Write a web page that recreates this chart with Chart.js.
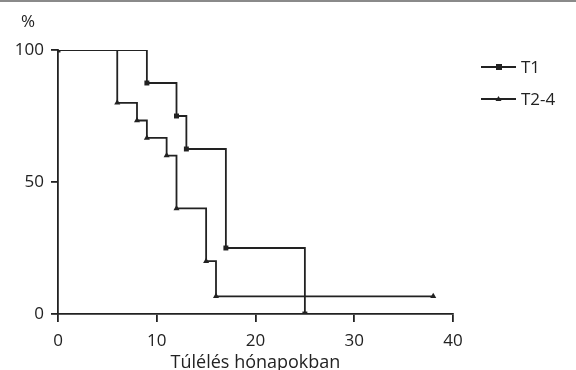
<!DOCTYPE html>
<html>
<head>
<meta charset="utf-8">
<script src="https://cdn.jsdelivr.net/npm/chart.js@4/dist/chart.umd.min.js"></script>
<style>
  html, body { margin: 0; padding: 0; background: #fff; }
  #wrap { position: relative; width: 576px; height: 370px; }
  #edge { position: absolute; left: 0; top: 0; width: 576px; height: 2px; background: #8a8a8a; }
</style>
</head>
<body>
<div id="wrap">
  <canvas id="kmChart" width="576" height="370"></canvas>
  <div id="edge"></div>
</div>
<script>
// Kaplan-Meier survival, % surviving vs months
const t1Months = [0, 9, 12, 13, 17, 25];
const t1Survival = [100, 87.5, 75, 62.5, 25, 0];
const t24Months = [0, 6, 8, 9, 11, 12, 15, 16, 38];
const t24Survival = [100, 80, 73.3, 66.7, 60, 40, 20, 6.7, 6.7];
const seriesNames = ["T1", "T2-4"];
const xTicks = [0, 10, 20, 30, 40];
const yTicks = [0, 50, 100];

const INK = "#222";
const FONT = "'Open Sans', 'Noto Sans', sans-serif";

function toPoints(xs, ys) {
  return xs.map((x, i) => ({ x: x, y: ys[i] }));
}

// legend drawn as line + marker, plus the "%" unit label
const extras = {
  id: "extras",
  afterDraw(chart) {
    const ctx = chart.ctx;
    ctx.save();
    ctx.fillStyle = INK;
    ctx.font = "17px " + FONT;
    ctx.textBaseline = "middle";
    ctx.textAlign = "left";
    ctx.fillText("%", 21, 22);

    const rows = [67, 99];
    chart.data.datasets.forEach((ds, i) => {
      const y = rows[i];
      ctx.strokeStyle = INK;
      ctx.lineWidth = 1.8;
      ctx.beginPath();
      ctx.moveTo(481, y);
      ctx.lineTo(516, y);
      ctx.stroke();
      ctx.fillStyle = INK;
      if (ds.pointStyle === "rect") {
        ctx.fillRect(496, y - 3, 6, 6);
      } else {
        ctx.beginPath();
        ctx.moveTo(498.5, y - 3);
        ctx.lineTo(501.5, y + 2);
        ctx.lineTo(495.5, y + 2);
        ctx.closePath();
        ctx.fill();
      }
      ctx.font = "17px " + FONT;
      ctx.fillText(ds.label, 521, y + 1);
    });
    ctx.restore();
  }
};

new Chart(document.getElementById("kmChart"), {
  type: "scatter",
  data: {
    datasets: [
      {
        label: seriesNames[0],
        data: toPoints(t1Months, t1Survival),
        showLine: true,
        stepped: "before",
        borderColor: INK,
        borderWidth: 1.8,
        pointStyle: "rect",
        pointRadius: 3.5,
        pointBackgroundColor: INK,
        pointBorderColor: INK,
        pointBorderWidth: 0
      },
      {
        label: seriesNames[1],
        data: toPoints(t24Months, t24Survival),
        showLine: true,
        stepped: "before",
        borderColor: INK,
        borderWidth: 1.8,
        pointStyle: "triangle",
        pointRadius: t24Months.map((m, i) => i === 0 ? 0 : 3.5),
        pointBackgroundColor: INK,
        pointBorderColor: INK,
        pointBorderWidth: 0
      }
    ]
  },
  plugins: [extras],
  options: {
    responsive: false,
    animation: false,
    layout: { padding: { top: 50, right: 123, left: 0, bottom: 0 } },
    plugins: {
      legend: { display: false },
      tooltip: { enabled: false }
    },
    scales: {
      x: {
        type: "linear",
        min: 0,
        max: 40,
        afterBuildTicks: (s) => { s.ticks = xTicks.map(v => ({ value: v })); },
        afterFit: (s) => { s.height = 56; },
        border: { display: true, color: INK, width: 1.8 },
        grid: { display: true, drawOnChartArea: false, drawTicks: true, tickLength: 8, color: INK, lineWidth: 1.8 },
        ticks: { color: INK, padding: 9, font: { family: FONT, size: 17 } },
        title: {
          display: true,
          text: "Túlélés hónapokban",
          color: INK,
          font: { family: FONT, size: 18 },
          padding: { top: 0, bottom: -4 }
        }
      },
      y: {
        type: "linear",
        min: 0,
        max: 100,
        afterBuildTicks: (s) => { s.ticks = yTicks.map(v => ({ value: v })); },
        afterFit: (s) => { s.width = 58; },
        border: { display: true, color: INK, width: 1.8 },
        grid: { display: true, drawOnChartArea: false, drawTicks: true, tickLength: 7, color: INK, lineWidth: 1.8 },
        ticks: { color: INK, padding: 7, font: { family: FONT, size: 17 } }
      }
    }
  }
});
</script>
</body>
</html>
